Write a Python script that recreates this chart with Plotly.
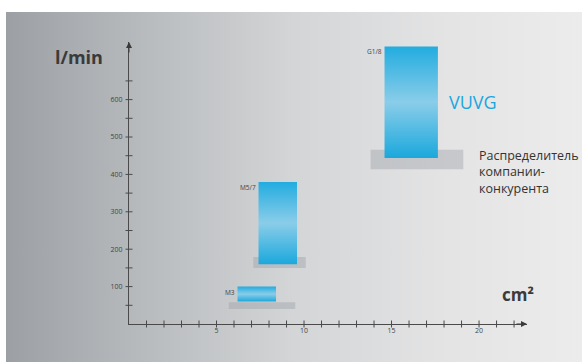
import plotly.graph_objects as go

# ---- data ----
sizes = ["M3", "M5/7", "G1/8"]
vuvg_x0 = [6.2, 7.4, 14.6]
vuvg_x1 = [8.4, 9.6, 17.65]
vuvg_low = [60, 160, 444]
vuvg_high = [100, 380, 742]
comp_x0 = [5.7, 7.1, 13.8]
comp_x1 = [9.5, 10.1, 19.1]
comp_low = [40, 150, 414]
comp_high = [58, 179, 466]
x_ticks = [5, 10, 15, 20]
y_ticks = [100, 200, 300, 400, 500, 600]
x_max = 22.74
y_max = 754

W, H = 582, 363
fig = go.Figure()

# background gradient (on pixel-space axes x/y)
fig.add_trace(go.Scatter(
    x=[6, W, W, 6, 6], y=[12, 12, H - 1, H - 1, 12], mode="lines",
    fill="toself", line=dict(width=0),
    fillgradient=dict(type="horizontal",
                      colorscale=[[0, "#9ca0a4"], [0.25, "#b9bcbf"], [0.5, "#d3d5d6"],
                                  [0.75, "#e3e3e4"], [1, "#ececec"]]),
    hoverinfo="skip", showlegend=False, xaxis="x", yaxis="y"))

# competitor (grey) boxes
for i in range(len(sizes)):
    fig.add_trace(go.Scatter(
        x=[comp_x0[i], comp_x1[i], comp_x1[i], comp_x0[i], comp_x0[i]],
        y=[comp_low[i], comp_low[i], comp_high[i], comp_high[i], comp_low[i]],
        mode="lines", fill="toself", line=dict(width=0),
        fillcolor="rgba(150,156,162,0.38)", hoverinfo="skip", showlegend=False,
        xaxis="x2", yaxis="y2"))

# VUVG (blue) boxes
for i in range(len(sizes)):
    fig.add_trace(go.Scatter(
        x=[vuvg_x0[i], vuvg_x1[i], vuvg_x1[i], vuvg_x0[i], vuvg_x0[i]],
        y=[vuvg_low[i], vuvg_low[i], vuvg_high[i], vuvg_high[i], vuvg_low[i]],
        mode="lines", fill="toself", line=dict(width=0),
        fillgradient=dict(type="vertical",
                          colorscale=[[0, "#1ba8dc"], [0.5, "#8acde9"], [1, "#22ace0"]]),
        hoverinfo="skip", showlegend=False, xaxis="x2", yaxis="y2"))

# tick marks crossing the axes
xt = list(range(1, 23))
fig.add_trace(go.Scatter(x=xt, y=[0] * len(xt), mode="markers",
                         marker=dict(symbol="line-ns-open", size=5, color="#4a4a4a", line=dict(width=1)),
                         hoverinfo="skip", showlegend=False, xaxis="x2", yaxis="y2", cliponaxis=False))
yt = list(range(50, 651, 50))
fig.add_trace(go.Scatter(x=[0] * len(yt), y=yt, mode="markers",
                         marker=dict(symbol="line-ew-open", size=5, color="#4a4a4a", line=dict(width=1)),
                         hoverinfo="skip", showlegend=False, xaxis="x2", yaxis="y2", cliponaxis=False))

ann = []
for i, s in enumerate(sizes):
    ann.append(dict(x=vuvg_x0[i], y=vuvg_high[i], xref="x2", yref="y2", text=s,
                    showarrow=False, xanchor="right", yanchor="top", xshift=-1, yshift=1,
                    font=dict(size=6.5, color="#444444", family="Open Sans")))
# axis arrows
ann.append(dict(x=x_max, y=0, xref="x2", yref="y2", ax=-12, ay=0, text="", showarrow=True,
                arrowhead=2, arrowsize=1.2, arrowwidth=1, arrowcolor="#3a3a3a"))
ann.append(dict(x=0, y=y_max, xref="x2", yref="y2", ax=0, ay=12, text="", showarrow=True,
                arrowhead=2, arrowsize=1.2, arrowwidth=1, arrowcolor="#3a3a3a"))
ann.append(dict(x=53, y=57, xref="x", yref="y", text="<b>l/min</b>", showarrow=False,
                xanchor="left", yanchor="middle", font=dict(size=18, color="#3a3a3a", family="Open Sans")))
ann.append(dict(x=500, y=294, xref="x", yref="y", text="<b>cm²</b>", showarrow=False,
                xanchor="left", yanchor="middle", font=dict(size=17, color="#3a3a3a", family="Open Sans")))
ann.append(dict(x=18.15, y=594, xref="x2", yref="y2", text="VUVG", showarrow=False,
                xanchor="left", yanchor="middle", font=dict(size=18, color="#1aa7df", family="Open Sans")))
ann.append(dict(x=19.9, y=478, xref="x2", yref="y2",
                text="Распределитель<br>компании-<br>конкурента", showarrow=False,
                xanchor="left", yanchor="top", align="left",
                font=dict(size=12.5, color="#333333", family="Open Sans")))

fig.update_layout(
    width=W, height=H, margin=dict(l=0, r=0, t=0, b=0),
    paper_bgcolor="white", plot_bgcolor="rgba(0,0,0,0)",
    xaxis=dict(domain=[0, 1], range=[0, W], visible=False, fixedrange=True),
    yaxis=dict(domain=[0, 1], range=[H, 0], visible=False, fixedrange=True),
    xaxis2=dict(domain=[129 / W, 527 / W], range=[0, x_max], anchor="y2",
                showgrid=False, zeroline=False, showline=True, linecolor="#4a4a4a", linewidth=1,
                tickvals=x_ticks, ticks="", tickfont=dict(size=7, color="#444444", family="Open Sans")),
    yaxis2=dict(domain=[39 / H, 321 / H], range=[0, y_max], anchor="x2",
                showgrid=False, zeroline=False, showline=True, linecolor="#4a4a4a", linewidth=1,
                tickvals=y_ticks, ticks="", ticklabelstandoff=4,
                tickfont=dict(size=7, color="#444444", family="Open Sans")),
    annotations=ann, showlegend=False,
)

fig.write_html("out.html")
